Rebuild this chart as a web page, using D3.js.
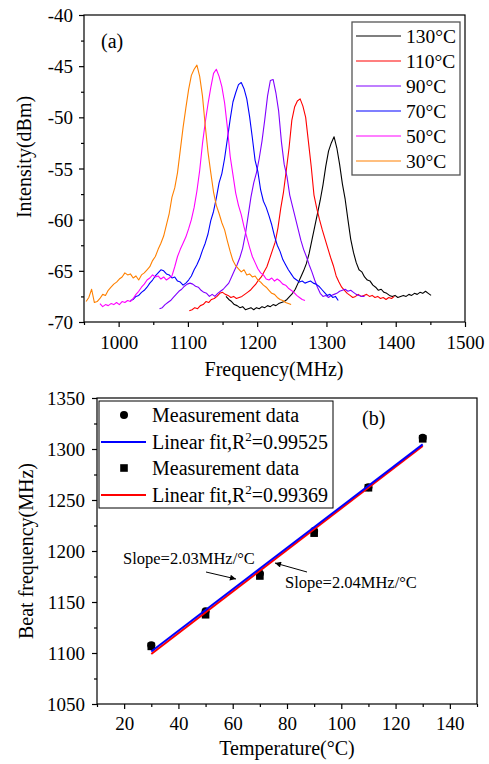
<!DOCTYPE html>
<html>
<head>
<meta charset="utf-8">
<script src="https://cdn.jsdelivr.net/npm/d3@7"></script>
<style>
  html, body { margin: 0; padding: 0; background: #fff; }
  svg { display: block; }
  svg text { font-family: "Liberation Serif", "Times New Roman", serif !important; fill: #000; }
</style>
</head>
<body>
<svg id="chart" width="489" height="764"></svg>
<script>
// ---------------- DATA: panel (a) spectra ----------------
const tempLabels = ["130°C", "110°C", "90°C", "70°C", "50°C", "30°C"];
const seriesColors = ["#000000", "#ff0000", "#8000ff", "#0000ff", "#ff00ff", "#ff8000"];
const freqStep = 4;
const startFreqs = [1155, 1102, 1059, 1017, 973, 953];

const s130 = [-67.5,-67.8,-68.0,-68.3,-68.4,-68.6,-68.5,-68.8,-68.7,-68.6,-68.8,-68.6,-68.7,-68.5,-68.6,-68.4,-68.5,-68.3,-68.4,-68.2,
  -68.1,-68.0,-67.8,-67.5,-67.2,-66.8,-66.2,-65.6,-65.0,-64.3,-63.3,-62.0,-60.7,-59.4,-58.1,-56.6,-54.8,-53.3,-52.5,-51.9,
  -53.0,-54.6,-56.5,-58.0,-60.0,-61.9,-63.2,-64.2,-64.9,-65.1,-65.6,-65.9,-66.0,-66.4,-66.6,-66.9,-66.8,-67.1,-67.2,-67.4,
  -67.5,-67.4,-67.6,-67.5,-67.4,-67.5,-67.3,-67.4,-67.2,-67.3,-67.1,-67.2,-67.0,-67.2,-67.4];
const s110 = [-68.9,-68.8,-68.6,-68.7,-68.4,-68.3,-68.0,-68.1,-67.8,-67.7,-67.5,-67.2,-67.1,-67.3,-67.4,-67.6,-67.5,-67.7,-67.6,-67.5,
  -67.3,-67.1,-66.9,-66.6,-66.3,-65.9,-65.6,-65.1,-64.6,-63.8,-63.0,-62.2,-60.8,-58.9,-57.3,-55.2,-53.0,-50.3,-49.0,-48.4,
  -48.2,-48.9,-50.0,-52.4,-54.8,-57.6,-58.9,-60.0,-61.0,-61.9,-62.8,-63.7,-64.5,-65.5,-66.1,-66.6,-66.9,-67.2,-67.4,-67.6,
  -67.5,-67.3,-67.5,-67.4,-67.3,-67.5,-67.4,-67.6,-67.5,-67.7,-67.6,-67.8,-67.6,-67.7,-67.5];
const s90 = [-68.7,-68.6,-68.3,-68.1,-67.9,-67.6,-67.3,-67.0,-66.8,-66.5,-66.3,-66.2,-66.3,-66.5,-66.6,-66.9,-67.1,-67.2,-67.5,-67.3,
  -67.5,-67.2,-67.0,-66.8,-66.5,-66.2,-65.6,-65.0,-64.4,-63.7,-62.8,-61.4,-59.6,-57.8,-56.4,-55.4,-54.0,-52.3,-50.2,-47.9,
  -46.4,-46.3,-47.6,-49.4,-52.4,-54.6,-55.8,-57.6,-58.7,-59.8,-60.9,-62.0,-62.9,-63.6,-64.4,-65.1,-65.9,-66.6,-67.2,-67.5,
  -67.4,-67.6,-67.4,-67.3,-67.2,-67.0,-66.9,-66.8,-67.0,-66.9,-67.1,-67.3,-67.4,-67.5,-67.5];
const s70 = [-67.9,-67.8,-67.5,-67.4,-67.1,-66.9,-66.6,-66.2,-65.9,-65.5,-65.2,-64.9,-65.0,-65.3,-65.4,-65.7,-65.6,-66.0,-66.1,-66.4,
  -66.2,-65.9,-65.5,-64.9,-64.4,-63.8,-63.0,-62.3,-61.4,-60.1,-59.2,-57.9,-56.4,-55.5,-54.0,-52.1,-50.2,-48.5,-47.6,-46.8,
  -46.6,-47.2,-48.2,-49.9,-52.0,-54.2,-55.3,-57.1,-58.2,-58.8,-59.6,-60.5,-61.6,-62.5,-63.1,-63.9,-64.4,-64.9,-65.3,-65.7,
  -65.9,-66.1,-66.0,-66.2,-66.1,-66.0,-66.2,-66.3,-66.5,-66.8,-67.1,-67.4,-67.3,-67.6,-67.5,-67.9];
const s50 = [-68.2,-68.5,-68.3,-68.4,-68.2,-68.3,-68.1,-68.3,-68.0,-68.1,-67.9,-68.0,-67.7,-67.3,-67.0,-66.6,-66.3,-65.9,-65.7,-65.4,
  -65.6,-65.5,-65.8,-65.6,-65.9,-65.7,-65.5,-64.6,-63.6,-62.9,-62.3,-61.7,-60.9,-60.0,-58.8,-57.2,-55.2,-52.6,-50.5,-48.7,
  -47.1,-45.7,-45.3,-46.0,-47.0,-48.6,-51.0,-53.8,-55.6,-57.4,-58.6,-59.5,-60.7,-61.7,-62.7,-63.6,-64.2,-64.8,-65.2,-65.4,
  -65.8,-65.9,-65.7,-66.0,-65.8,-66.0,-66.3,-66.4,-66.7,-66.9,-67.1,-67.4,-67.6,-67.8,-67.9];
const s30 = [-68.0,-67.6,-66.8,-68.1,-68.0,-67.7,-67.3,-67.4,-66.9,-66.6,-66.3,-66.1,-65.8,-65.6,-65.2,-65.4,-65.3,-65.7,-65.5,-65.9,
  -65.4,-65.2,-64.9,-64.6,-64.0,-63.6,-62.9,-62.3,-61.6,-60.5,-59.4,-57.8,-56.9,-55.4,-53.2,-51.0,-49.1,-47.3,-45.9,-45.3,
  -44.9,-46.0,-47.9,-50.8,-53.4,-55.4,-57.3,-58.6,-59.4,-60.3,-61.0,-62.1,-63.1,-64.0,-64.5,-64.8,-65.1,-64.9,-65.4,-65.3,
  -65.6,-65.5,-65.9,-66.1,-66.4,-66.6,-66.9,-67.2,-67.3,-67.6,-67.8,-67.9,-68.1,-68.2,-68.3];
const spectra = [s130, s110, s90, s70, s50, s30];

const freqTicks = [1000, 1100, 1200, 1300, 1400, 1500];
const freqMinor = [950, 1050, 1150, 1250, 1350, 1450];
const dbmTicks = [-70, -65, -60, -55, -50, -45, -40];
const dbmMinor = [-67.5, -62.5, -57.5, -52.5, -47.5, -42.5];

// ---------------- DATA: panel (b) ----------------
const temps = [30, 50, 70, 90, 110, 130];
const beatCircle = [1107.5, 1141, 1178, 1219.5, 1262.5, 1311];
const beatSquare = [1106.5, 1137.5, 1175.5, 1217.5, 1262, 1310];
const fitBlue = [[30, 1101.5], [130, 1304.5]];
const fitRed = [[30, 1099], [130, 1303]];
const legendB = ["Measurement data", "Linear fit,R", "Measurement data", "Linear fit,R"];
const r2Values = ["=0.99525", "=0.99369"];
const tempTicks = [20, 40, 60, 80, 100, 120, 140];
const tempMinor = [10, 30, 50, 70, 90, 110, 130, 150];
const beatTicks = [1050, 1100, 1150, 1200, 1250, 1300, 1350];
const beatMinor = [1075, 1125, 1175, 1225, 1275, 1325];

// ---------------- DRAW ----------------
const FONT = "'Liberation Serif', 'Times New Roman', serif";
const svg = d3.select("#chart");
const TICKFS = 19;

// ===== Panel (a) =====
const xA = d3.scaleLinear().domain([950, 1500]).range([84, 465]);
const yA = d3.scaleLinear().domain([-70, -40]).range([322, 15]);

const gA = svg.append("g");
gA.append("rect").attr("x", 84).attr("y", 15).attr("width", 465 - 84).attr("height", 322 - 15)
  .attr("fill", "none").attr("stroke", "#000").attr("stroke-width", 1.2);

function styleAxis(g) {
  g.attr("font-family", null).attr("font-size", null);
  g.select(".domain").remove();
  g.selectAll("line").attr("stroke", "#000").attr("stroke-width", 1.2);
}
function styleLabels(g) {
  g.selectAll("text").style("font-family", FONT).style("font-size", TICKFS + "px");
}
gA.append("g").attr("transform", "translate(0,322)")
  .call(d3.axisBottom(xA).tickValues(freqTicks).tickSize(5).tickFormat(d => String(d)))
  .call(styleAxis).call(styleLabels)
  .call(g => g.selectAll("text").attr("dy", null).attr("y", 27));
gA.append("g").attr("transform", "translate(0,322)")
  .call(d3.axisBottom(xA).tickValues(freqMinor).tickSize(3).tickFormat(""))
  .call(styleAxis);
gA.append("g").attr("transform", "translate(84,0)")
  .call(d3.axisLeft(yA).tickValues(dbmTicks).tickSize(5).tickFormat(d => String(d)))
  .call(styleAxis).call(styleLabels)
  .call(g => g.selectAll("text").attr("x", -11).attr("dy", "0.35em"));
gA.append("g").attr("transform", "translate(84,0)")
  .call(d3.axisLeft(yA).tickValues(dbmMinor).tickSize(3).tickFormat(""))
  .call(styleAxis);

const lineA = d3.line().x(d => xA(d[0])).y(d => yA(d[1]));
spectra.forEach((vals, i) => {
  const pts = vals.map((v, j) => [startFreqs[i] + j * freqStep, v]);
  gA.append("path").datum(pts).attr("d", lineA)
    .attr("fill", "none").attr("stroke", seriesColors[i]).attr("stroke-width", 1.1)
    .attr("stroke-linejoin", "round");
});

gA.append("text").attr("x", 274).attr("y", 376).attr("text-anchor", "middle")
  .attr("font-size", 20).text("Frequency(MHz)");
gA.append("text").attr("transform", "translate(31,157) rotate(-90)").attr("text-anchor", "middle")
  .attr("font-size", 20).text("Intensity(dBm)");
gA.append("text").attr("x", 101).attr("y", 48).attr("font-size", 20).text("(a)");

const legA = gA.append("g");
legA.append("rect").attr("x", 352).attr("y", 22).attr("width", 108).attr("height", 153)
  .attr("fill", "#fff").attr("stroke", "#555").attr("stroke-width", 1.3);
tempLabels.forEach((lab, i) => {
  const cy = 36 + i * 25;
  legA.append("line").attr("x1", 356).attr("x2", 401).attr("y1", cy).attr("y2", cy)
    .attr("stroke", seriesColors[i]).attr("stroke-width", 1.1);
  legA.append("text").attr("x", 406).attr("y", cy + 7).attr("font-size", 19.5).text(lab);
});

// ===== Panel (b) =====
const xB = d3.scaleLinear().domain([10, 150]).range([97, 477]);
const yB = d3.scaleLinear().domain([1050, 1350]).range([704, 398]);
const gB = svg.append("g");
gB.append("rect").attr("x", 97).attr("y", 398).attr("width", 477 - 97).attr("height", 704 - 398)
  .attr("fill", "none").attr("stroke", "#000").attr("stroke-width", 1.2);

gB.append("g").attr("transform", "translate(0,704)")
  .call(d3.axisBottom(xB).tickValues(tempTicks).tickSize(5).tickFormat(d => String(d)))
  .call(styleAxis).call(styleLabels)
  .call(g => g.selectAll("text").attr("dy", null).attr("y", 26));
gB.append("g").attr("transform", "translate(0,704)")
  .call(d3.axisBottom(xB).tickValues(tempMinor).tickSize(3).tickFormat(""))
  .call(styleAxis);
gB.append("g").attr("transform", "translate(97,0)")
  .call(d3.axisLeft(yB).tickValues(beatTicks).tickSize(5).tickFormat(d => String(d)))
  .call(styleAxis).call(styleLabels)
  .call(g => g.selectAll("text").attr("x", -12).attr("dy", "0.35em"));
gB.append("g").attr("transform", "translate(97,0)")
  .call(d3.axisLeft(yB).tickValues(beatMinor).tickSize(3).tickFormat(""))
  .call(styleAxis);

gB.selectAll("circle.m1").data(temps).enter().append("circle")
  .attr("cx", d => xB(d)).attr("cy", (d, i) => yB(beatCircle[i])).attr("r", 4).attr("fill", "#000");
gB.selectAll("rect.m2").data(temps).enter().append("rect")
  .attr("x", d => xB(d) - 3.8).attr("y", (d, i) => yB(beatSquare[i]) - 3.8)
  .attr("width", 7.6).attr("height", 7.6).attr("fill", "#000");

const lineB = d3.line().x(d => xB(d[0])).y(d => yB(d[1]));
gB.append("path").datum(fitRed).attr("d", lineB).attr("stroke", "#ff0000").attr("stroke-width", 2).attr("fill", "none");
gB.append("path").datum(fitBlue).attr("d", lineB).attr("stroke", "#0000ff").attr("stroke-width", 2).attr("fill", "none");

gB.append("text").attr("x", 287).attr("y", 755).attr("text-anchor", "middle")
  .attr("font-size", 20).text("Temperature(°C)");
gB.append("text").attr("transform", "translate(33,551) rotate(-90)").attr("text-anchor", "middle")
  .attr("font-size", 20).text("Beat frequency(MHz)");
gB.append("text").attr("x", 362).attr("y", 425).attr("font-size", 20).text("(b)");

const legB = gB.append("g");
legB.append("rect").attr("x", 99).attr("y", 401).attr("width", 234).attr("height", 107)
  .attr("fill", "#fff").attr("stroke", "#000").attr("stroke-width", 1);
const rowsB = [415, 442, 468, 495];
legB.append("circle").attr("cx", 124).attr("cy", rowsB[0]).attr("r", 4).attr("fill", "#000");
legB.append("line").attr("x1", 101).attr("x2", 146).attr("y1", rowsB[1]).attr("y2", rowsB[1])
  .attr("stroke", "#0000ff").attr("stroke-width", 2);
legB.append("rect").attr("x", 124 - 3.8).attr("y", rowsB[2] - 3.8).attr("width", 7.6).attr("height", 7.6).attr("fill", "#000");
legB.append("line").attr("x1", 101).attr("x2", 146).attr("y1", rowsB[3]).attr("y2", rowsB[3])
  .attr("stroke", "#ff0000").attr("stroke-width", 2);
legendB.forEach((lab, i) => {
  const t = legB.append("text").attr("x", 152).attr("y", rowsB[i] + 7).attr("font-size", 20);
  t.append("tspan").text(lab);
  if (i % 2 === 1) {
    t.append("tspan").attr("font-size", 13).attr("dy", -8).text("2");
    t.append("tspan").attr("dy", 8).text(r2Values[(i - 1) / 2]);
  }
});

svg.append("defs").append("marker").attr("id", "arr").attr("viewBox", "0 0 10 10")
  .attr("refX", 10).attr("refY", 5).attr("markerWidth", 9).attr("markerHeight", 6)
  .attr("orient", "auto").attr("markerUnits", "userSpaceOnUse")
  .append("path").attr("d", "M0,0 L10,5 L0,10 Z").attr("fill", "#000");
gB.append("text").attr("x", 123).attr("y", 564).attr("font-size", 16.5).text("Slope=2.03MHz/°C");
gB.append("text").attr("x", 285).attr("y", 588).attr("font-size", 16.5).text("Slope=2.04MHz/°C");
gB.append("line").attr("x1", 206).attr("y1", 572).attr("x2", 236).attr("y2", 579)
  .attr("stroke", "#000").attr("stroke-width", 1).attr("marker-end", "url(#arr)");
gB.append("line").attr("x1", 307).attr("y1", 572).attr("x2", 275).attr("y2", 563)
  .attr("stroke", "#000").attr("stroke-width", 1).attr("marker-end", "url(#arr)");
</script>
</body>
</html>
